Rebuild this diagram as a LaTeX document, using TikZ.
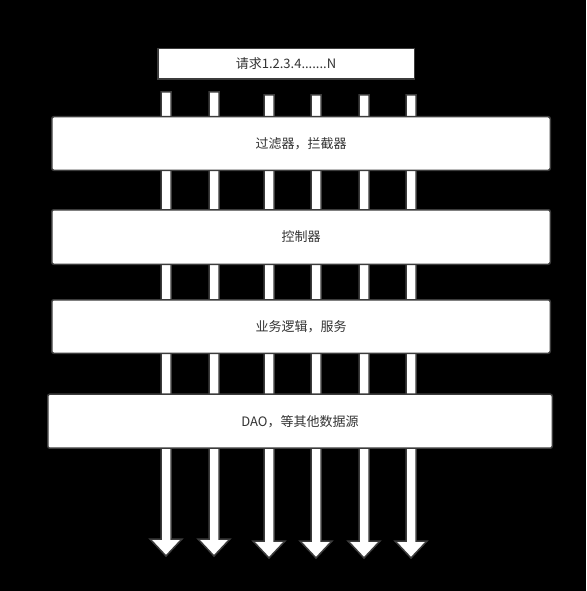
\documentclass[tikz,border=0pt]{standalone}
\usepackage{fontspec}
\setmainfont{Noto Sans CJK SC}
\usetikzlibrary{positioning,calc}
\definecolor{edgegray}{HTML}{3C3C3C}
\definecolor{txtgray}{HTML}{333333}
\tikzset{
	lay_box/.style = {draw=edgegray, line width=1.5pt, fill=white, rounded corners=2pt,
		inner sep=0pt, text=txtgray, font=\fontsize{13}{15}\selectfont},% couche
	req_box/.style = {draw=edgegray, line width=1.5pt, fill=white,
		inner sep=0pt, text=txtgray, font=\fontsize{13}{15}\selectfont},% requetes
	flow_arr/.style = {draw=edgegray, line width=1.5pt, fill=white, line join=miter}% fleche
}

\begin{document}
\begin{tikzpicture}[x=1pt,y=-1pt]
\useasboundingbox (0,0) rectangle (586,591);
\fill[black] (0,0) rectangle (586,591);
% fleches
\foreach \n/\x/\t/\b in {1/166/92/556, 2/214/92/556, 3/269/95/558,
	4/316/95/558, 5/364/95/558, 6/411/95/558}{
	\coordinate (top\n) at (\x,\t);
	\coordinate (tip\n) at (\x,\b);
	\draw[flow_arr] ($(top\n)+(-5,0)$) -- ($(tip\n)+(-5,-17)$) -- ($(tip\n)+(-16,-17)$)
		-- (tip\n) -- ($(tip\n)+(16,-17)$) -- ($(tip\n)+(5,-17)$) -- ($(top\n)+(5,0)$) -- cycle;
}
% couches
\node [req_box, minimum width=256.5pt, minimum height=30.5pt] (req) at (286,64) {请求1.2.3.4.......N};
\node [lay_box, minimum width=498.5pt, minimum height=53.5pt] (filter) at (301,143.5) {过滤器，拦截器};
\node [lay_box, minimum width=498.5pt, minimum height=54.5pt] (ctrl) at (301,237) {控制器};
\node [lay_box, minimum width=498.5pt, minimum height=53.5pt] (service) at (301,326.5) {业务逻辑，服务};
\node [lay_box, minimum width=504.5pt, minimum height=54pt] (dao) at (300,421.2) {DAO，等其他数据源};
\end{tikzpicture}
\end{document}
